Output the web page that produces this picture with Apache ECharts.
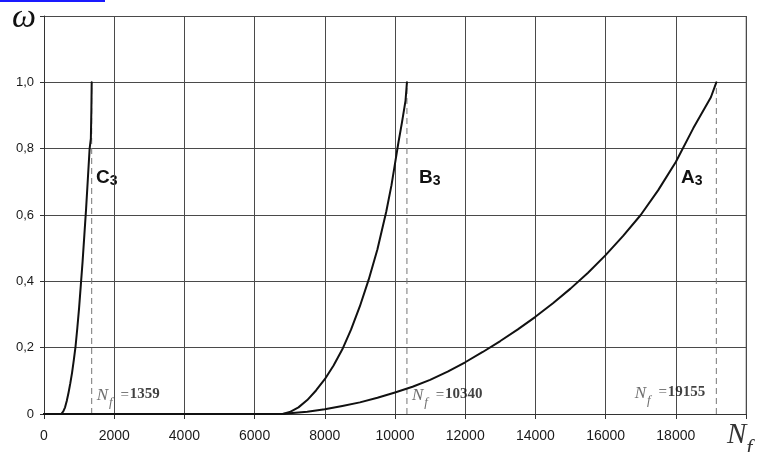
<!DOCTYPE html>
<html>
<head>
<meta charset="utf-8">
<script src="https://cdn.jsdelivr.net/npm/echarts@6/dist/echarts.min.js"></script>
<style>
  html, body { margin: 0; padding: 0; background: #fff; }
  #chart { width: 761px; height: 452px; }
</style>
</head>
<body>
<div id="chart"></div>
<script>
// Damage parameter ω versus number of cycles N for three loading regimes
const xTickLabels = ['0', '2000', '4000', '6000', '8000', '10000', '12000', '14000', '16000', '18000'];
const yTickLabels = ['0', '0,2', '0,4', '0,6', '0,8', '1,0'];

const curveNames = ['C', 'B', 'A'];
const failureCycles = [1359, 10340, 19155];

const curveC = [
  [0, 0], [490, 0], [550, 0.008], [600, 0.02], [650, 0.04], [700, 0.065],
  [750, 0.093], [800, 0.125], [850, 0.163], [900, 0.205], [950, 0.26],
  [1000, 0.32], [1050, 0.39], [1100, 0.46], [1150, 0.54], [1200, 0.62],
  [1250, 0.71], [1300, 0.80], [1335, 0.83], [1350, 0.92], [1359, 1.0]
];
const curveB = [
  [0, 0], [6800, 0], [7000, 0.006], [7250, 0.02], [7500, 0.042], [7750, 0.071],
  [8000, 0.105], [8250, 0.146], [8500, 0.195], [8750, 0.255], [9000, 0.325],
  [9250, 0.405], [9500, 0.497], [9750, 0.61], [9900, 0.69], [10000, 0.755],
  [10100, 0.82], [10200, 0.88], [10300, 0.945], [10340, 1.0]
];
const curveA = [
  [6800, 0], [7000, 0.002], [7500, 0.007], [8000, 0.014], [8500, 0.024],
  [9000, 0.035], [9500, 0.049], [10000, 0.065], [10500, 0.082], [11000, 0.103],
  [11500, 0.128], [12000, 0.156], [12500, 0.187], [13000, 0.22], [13500, 0.255],
  [14000, 0.293], [14500, 0.334], [15000, 0.378], [15500, 0.426], [16000, 0.479],
  [16500, 0.537], [17000, 0.6], [17500, 0.675], [18000, 0.76], [18500, 0.862],
  [19000, 0.955], [19155, 1.0]
];
const curves = [curveC, curveB, curveA];

const chart = echarts.init(document.getElementById('chart'));

const gridColor = '#4a4a4a';

function cycleLabel(n) {
  return '{n|N}{f|f}{eq| =}{v|' + n + '}';
}

// N and the value share one line; the subscript f sits lower in the line box
const labelRich = {
  n: { fontFamily: 'Liberation Serif', fontStyle: 'italic', fontSize: 17, color: '#4a4a4a', lineHeight: 22, verticalAlign: 'top' },
  f: { fontFamily: 'Liberation Serif', fontStyle: 'italic', fontSize: 13, color: '#4a4a4a', lineHeight: 12, verticalAlign: 'bottom', padding: [0, 0, 0, 1] },
  eq: { fontFamily: 'Liberation Serif', fontSize: 15, color: '#222', lineHeight: 22, verticalAlign: 'top', padding: [0, 1, 0, 4] },
  v: { fontFamily: 'Liberation Serif', fontWeight: 'bold', fontSize: 15, color: '#111', lineHeight: 22, verticalAlign: 'top' }
};

const series = [];

// dashed verticals at the failure cycle count of each regime
failureCycles.forEach(function (n) {
  series.push({
    type: 'line',
    data: [[n, 0], [n, 1.0]],
    showSymbol: false,
    silent: true,
    z: 1,
    lineStyle: { color: '#777', width: 1, type: [6, 4] }
  });
});

// damage curves
curves.forEach(function (c, i) {
  series.push({
    type: 'line',
    name: curveNames[i],
    data: c,
    showSymbol: false,
    smooth: false,
    z: 3,
    lineStyle: { color: '#111', width: 2, join: 'round', cap: 'round' }
  });
});

// N_f annotations beside each dashed line
const labelSides = ['right', 'right', 'left'];
const labelHeights = [0.048, 0.048, 0.055];
failureCycles.forEach(function (n, i) {
  series.push({
    type: 'scatter',
    data: [[n, labelHeights[i]]],
    symbolSize: 0,
    silent: true,
    z: 4,
    label: {
      show: true,
      position: labelSides[i],
      distance: labelSides[i] === 'left' ? 11 : 5,
      formatter: cycleLabel(n),
      rich: labelRich
    }
  });
});

function curveTag(letter) {
  return '{L|' + letter + '}{s|3}';
}
const tagRich = {
  L: { fontFamily: 'Liberation Sans', fontWeight: 'bold', fontSize: 19, fill: '#111', lineHeight: 22 },
  s: { fontFamily: 'Liberation Sans', fontWeight: 'bold', fontSize: 14, fill: '#111', verticalAlign: 'bottom', lineHeight: 22 }
};

chart.setOption({
  animation: false,
  grid: { left: 44, right: 15, top: 16, bottom: 38, containLabel: false },
  xAxis: {
    type: 'value',
    min: 0,
    max: 20000,
    interval: 2000,
    axisLine: { show: true, lineStyle: { color: '#333', width: 1 } },
    axisTick: { show: true, length: 5, inside: false, lineStyle: { color: '#333' } },
    axisLabel: {
      margin: 15,
      fontFamily: 'Liberation Sans',
      fontSize: 14,
      color: '#1a1a1a',
      formatter: function (v) {
        const idx = Math.round(v / 2000);
        return idx < xTickLabels.length ? xTickLabels[idx] : '';
      }
    },
    splitLine: { show: true, lineStyle: { color: gridColor, width: 1 } }
  },
  yAxis: {
    type: 'value',
    min: 0,
    max: 1.2,
    interval: 0.2,
    axisLine: { show: true, lineStyle: { color: '#333', width: 1 } },
    axisTick: { show: true, length: 4, lineStyle: { color: '#333' } },
    axisLabel: {
      margin: 10,
      fontFamily: 'Liberation Sans',
      fontSize: 13,
      color: '#1a1a1a',
      formatter: function (v) {
        const idx = Math.round(v / 0.2);
        return idx < yTickLabels.length ? yTickLabels[idx] : '';
      }
    },
    splitLine: { show: true, lineStyle: { color: gridColor, width: 1 } }
  },
  series: series,
  graphic: [
    // right frame edge
    { type: 'line', shape: { x1: 746, y1: 16, x2: 746, y2: 414 }, style: { stroke: '#999', lineWidth: 1 }, z: 0 },
    // link underline along the upper edge
    { type: 'rect', shape: { x: 0, y: 0, width: 105, height: 2 }, style: { fill: '#1a1aff' } },
    // axis symbols
    { type: 'text', left: 12, top: 1, style: { text: 'ω', fontFamily: 'Liberation Serif', fontStyle: 'italic', fontSize: 34, fill: '#111' } },
    { type: 'text', left: 727, top: 421, style: { text: '{N|N}{f|f}', rich: {
      N: { fontFamily: 'Liberation Serif', fontStyle: 'italic', fontSize: 29, fill: '#333', lineHeight: 30, verticalAlign: 'top' },
      f: { fontFamily: 'Liberation Serif', fontStyle: 'italic', fontSize: 22, fill: '#333', verticalAlign: 'bottom', lineHeight: 38 }
    } } },
    // curve tags
    { type: 'text', left: 96, top: 168, style: { text: curveTag('C'), rich: tagRich } },
    { type: 'text', left: 419, top: 168, style: { text: curveTag('B'), rich: tagRich } },
    { type: 'text', left: 681, top: 168, style: { text: curveTag('A'), rich: tagRich } }
  ]
});
</script>
</body>
</html>
